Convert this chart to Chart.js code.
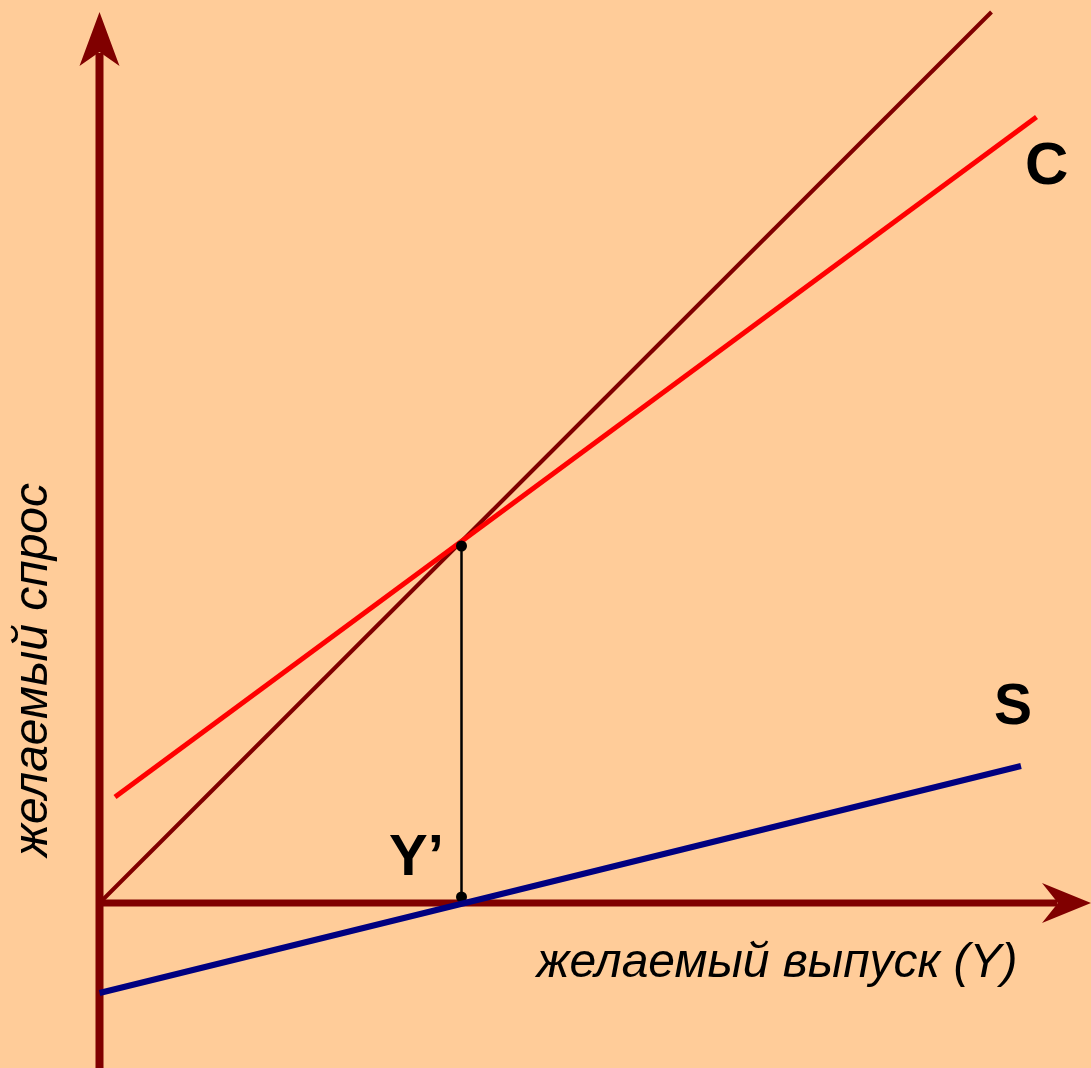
<!DOCTYPE html>
<html>
<head>
<meta charset="utf-8">
<script src="https://cdn.jsdelivr.net/npm/chart.js@4.4.1/dist/chart.umd.min.js"></script>
<style>
  html, body { margin: 0; padding: 0; background: #FFCC99; overflow: hidden; }
  #wrap { position: relative; width: 1091px; height: 1068px; }
</style>
</head>
<body>
<div id="wrap"><canvas id="chart" width="1091" height="1068"></canvas></div>
<script>
// units: roughly 1 unit = 100px, origin where the axes cross
const X_RANGE = [-0.995, 9.915];
const Y_RANGE = [-1.65, 9.03];

// lines (x, y pairs)
const AXIS_Y = [{ x: 0, y: -1.65 }, { x: 0, y: 8.5 }];
const AXIS_X = [{ x: 0, y: 0 }, { x: 9.58, y: 0 }];
const DIAG = [{ x: 0, y: 0 }, { x: 8.92, y: 8.91 }];
const C_LINE = [{ x: 0.155, y: 1.06 }, { x: 9.37, y: 7.86 }];
const S_LINE = [{ x: 0, y: -0.90 }, { x: 9.215, y: 1.37 }];
const EQ_DROP = [{ x: 3.62, y: 3.57 }, { x: 3.62, y: 0.06 }];

// arrow heads: tip, base half-width, notch
const ARROW_Y = { tip: 8.91, base: 8.37, notch: 8.51, half: 0.2 };
const ARROW_X = { tip: 9.915, base: 9.425, notch: 9.585, half: 0.2 };

const LABELS = {
  c: 'C',
  s: 'S',
  eq: 'Y\u2019',
  xTitle: 'желаемый выпуск (Y)',
  yTitle: 'желаемый спрос',
};

const MAROON = '#800000';
const FONT = '"Liberation Sans", Arial, sans-serif';

function line(data, color, width, order) {
  return {
    data,
    showLine: true,
    borderColor: color,
    borderWidth: width,
    pointRadius: 0,
    borderCapStyle: 'butt',
    fill: false,
    order,
  };
}

const arrowsAndText = {
  id: 'arrowsAndText',
  afterDatasetsDraw(chart) {
    const { ctx, scales: { x, y } } = chart;
    ctx.save();
    ctx.fillStyle = MAROON;
    // vertical axis arrow
    ctx.beginPath();
    ctx.moveTo(x.getPixelForValue(0), y.getPixelForValue(ARROW_Y.tip));
    ctx.lineTo(x.getPixelForValue(ARROW_Y.half), y.getPixelForValue(ARROW_Y.base));
    ctx.lineTo(x.getPixelForValue(0), y.getPixelForValue(ARROW_Y.notch));
    ctx.lineTo(x.getPixelForValue(-ARROW_Y.half), y.getPixelForValue(ARROW_Y.base));
    ctx.closePath();
    ctx.fill();
    // horizontal axis arrow
    ctx.beginPath();
    ctx.moveTo(x.getPixelForValue(ARROW_X.tip), y.getPixelForValue(0));
    ctx.lineTo(x.getPixelForValue(ARROW_X.base), y.getPixelForValue(ARROW_X.half));
    ctx.lineTo(x.getPixelForValue(ARROW_X.notch), y.getPixelForValue(0));
    ctx.lineTo(x.getPixelForValue(ARROW_X.base), y.getPixelForValue(-ARROW_X.half));
    ctx.closePath();
    ctx.fill();

    // labels
    ctx.fillStyle = '#000';
    ctx.textBaseline = 'alphabetic';
    ctx.textAlign = 'left';
    ctx.font = 'bold 60px ' + FONT;
    ctx.fillText(LABELS.c, 1025, 184);
    ctx.font = 'bold 57px ' + FONT;
    ctx.fillText(LABELS.s, 994, 724);
    ctx.font = 'bold 58px ' + FONT;
    ctx.fillText(LABELS.eq, 389, 875);

    ctx.font = 'italic 48px ' + FONT;
    ctx.textAlign = 'center';
    ctx.fillText(LABELS.xTitle, 777, 977);

    ctx.translate(47, 670);
    ctx.rotate(-Math.PI / 2);
    ctx.fillText(LABELS.yTitle, 0, 0);
    ctx.restore();
  },
};

new Chart(document.getElementById('chart'), {
  type: 'scatter',
  data: {
    datasets: [
      line(AXIS_Y, MAROON, 8, 10),
      line(AXIS_X, MAROON, 7, 9),
      line(DIAG, MAROON, 4, 8),
      line(C_LINE, '#FF0000', 5, 7),
      line(EQ_DROP, '#000000', 2.5, 6),
      {
        data: EQ_DROP,
        showLine: false,
        pointRadius: 5.5,
        pointBackgroundColor: '#000000',
        pointBorderWidth: 0,
        order: 5,
      },
      line(S_LINE, '#000080', 6, 4),
    ],
  },
  options: {
    responsive: false,
    animation: false,
    layout: { padding: 0, autoPadding: false },
    plugins: { legend: { display: false }, tooltip: { enabled: false } },
    scales: {
      x: { type: 'linear', display: false, min: X_RANGE[0], max: X_RANGE[1] },
      y: { type: 'linear', display: false, min: Y_RANGE[0], max: Y_RANGE[1] },
    },
  },
  plugins: [arrowsAndText],
});
</script>
</body>
</html>
